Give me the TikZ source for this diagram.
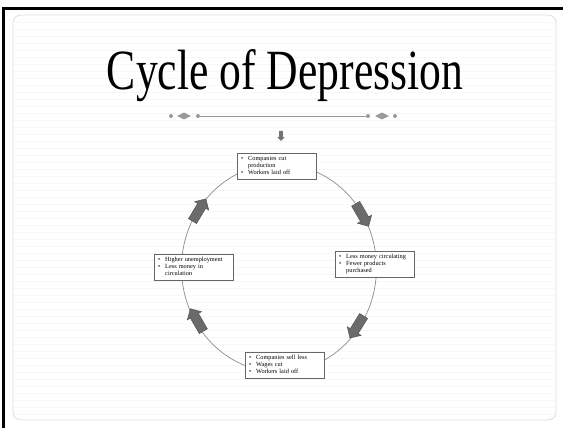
\documentclass[tikz,border=0pt]{standalone}
\usepackage{fontspec}
\setmainfont{Liberation Serif}
\usetikzlibrary{shapes.arrows,shapes.geometric}
\newcommand\blist[1]{\begin{tabular}{@{}l@{\hspace{5pt}}l@{}}#1\end{tabular}}
\tikzset{
  stage/.style={draw=black!60,fill=white,line width=.5pt,inner xsep=4pt,inner ysep=1pt,
    text width=71pt,minimum height=26pt,align=left,font=\fontsize{6.3}{7.4}\selectfont},
  turn/.style={single arrow,draw=black!70,fill=black!58,line width=.4pt,minimum height=26pt,
    inner xsep=0pt,inner ysep=4.5pt,single arrow head extend=3.5pt},
  dot/.style={circle,fill=black!40,inner sep=0pt,minimum size=4pt},
  gem/.style={diamond,fill=black!40,inner sep=0pt,minimum width=14pt,minimum height=7pt}
}
\begin{document}
\begin{tikzpicture}[x=1pt,y=-1pt]
\useasboundingbox (0,0) rectangle (563,428);
% slide frame
\foreach \y in {22,29,...,415} \draw[black!3] (14,\y)--(555,\y);
\draw[black!13,line width=.8pt,rounded corners=8pt] (13,15) rectangle (556,420);
\fill[black] (2,7) rectangle (563,10);
\fill[black] (2,7) rectangle (5,428);
% title
\node[anchor=base,inner sep=0pt] (title) at (285,90) {\resizebox{356pt}{40pt}{Cycle of Depression}};
% ornament
\node[dot] (d1) at (171,116) {};
\node[gem] (g1) at (184,116) {};
\node[dot] (d2) at (198,116) {};
\node[dot] (d3) at (368,116) {};
\node[gem] (g2) at (382,116) {};
\node[dot] (d4) at (395,116) {};
\draw[black!40,line width=.9pt] (d2)--(d3);
\node[single arrow,fill=black!55,rotate=-90,minimum height=10pt,inner xsep=0pt,inner ysep=1.7pt,
  single arrow head extend=1.8pt] (down) at (281,135) {};
% cycle
\coordinate (c) at (279,268);
\draw[black!45,line width=.7pt] (c) ellipse (97.5 and 104);
\node[stage] (top) at (276.5,166) {\blist{\textbullet & Companies cut\\ & production\\ \textbullet & Workers laid off}};
\node[stage] (right) at (374.5,264) {\blist{\textbullet & Less money circulating\\ \textbullet & Fewer products\\ & purchased}};
\node[stage] (bottom) at (284.5,365) {\blist{\textbullet & Companies sell less\\ \textbullet & Wages cut\\ \textbullet & Workers laid off}};
\node[stage] (left) at (193.5,267) {\blist{\textbullet & Higher unemployment\\ \textbullet & Less money in\\ & circulation}};
\foreach \p/\r [count=\i] in {{(361,213)}/-60,{(358,325)}/-122,{(198,322)}/120,{(198,212)}/59}
  \node[turn,rotate=\r] (arr\i) at \p {};
\end{tikzpicture}
\end{document}
